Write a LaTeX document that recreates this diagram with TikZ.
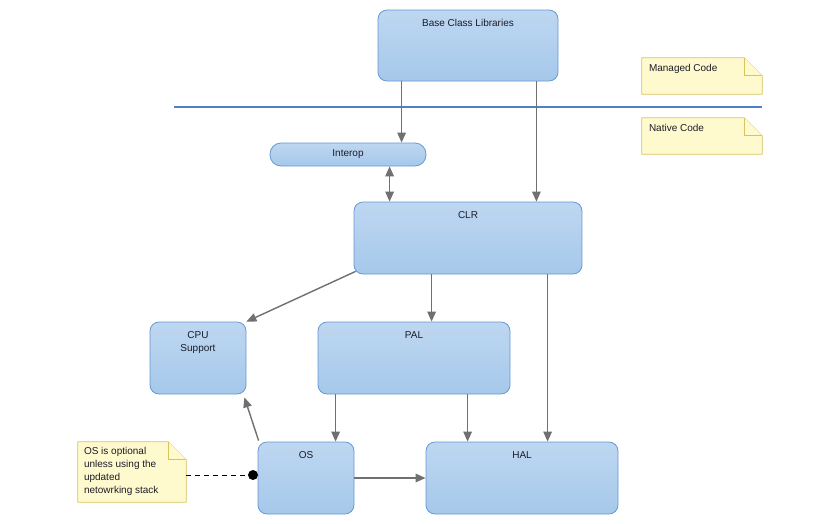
\documentclass[tikz,border=0pt]{standalone}
\usepackage{fontspec}
\setmainfont{Liberation Sans}
\usetikzlibrary{arrows.meta, calc}
\definecolor{blocktop}{RGB}{190,215,241}
\definecolor{blockbot}{RGB}{165,200,234}
\definecolor{blockedge}{RGB}{104,152,212}
\definecolor{notefill}{RGB}{255,250,205}
\definecolor{noteedge}{RGB}{214,196,96}
\definecolor{arrowgray}{RGB}{112,112,112}
\definecolor{layerline}{RGB}{78,128,196}
\definecolor{labeltext}{RGB}{28,28,40}

\tikzset{
  block/.style={draw=blockedge, line width=0.8pt, rounded corners=9pt,
    top color=blocktop, bottom color=blockbot, inner sep=0pt, text=labeltext},
  toplabel/.style={label={[anchor=north, yshift=-6pt, align=center, text=labeltext]north:#1}},
  flow/.style={draw=arrowgray, line width=1.4pt, -{Triangle[length=10pt,width=8.5pt]}},
  notebox/.style={inner sep=0pt},
  notetext/.style={anchor=north west, align=left, inner sep=0pt, text=labeltext},
  notepaper/.style={fill=notefill, draw=noteedge, line width=0.8pt}
}

% folded note outline
\newcommand{\drawnote}[1]{%
  \filldraw[notepaper] (#1.north west) -- ([xshift=-18pt]#1.north east)
    -- ([yshift=-18pt]#1.north east) -- (#1.south east) -- (#1.south west) -- cycle;
  \filldraw[notepaper] ([xshift=-18pt]#1.north east) -- ([shift={(-18pt,-18pt)}]#1.north east)
    -- ([yshift=-18pt]#1.north east);
}

\begin{document}
\begin{tikzpicture}[x=1pt, y=-1pt, font=\fontsize{10}{13}\selectfont]
    \useasboundingbox[fill=white] (0,0) rectangle (840,523);

    % Blocks
    \node[block, minimum width=180pt, minimum height=71pt, toplabel={Base Class Libraries}] (bcl) at (468,45.5) {};
    \node[block, minimum width=156pt, minimum height=23pt, rounded corners=11pt] (interop) at (348,154.5) {Interop};
    \node[block, minimum width=228pt, minimum height=72pt, toplabel={CLR}] (clr) at (468,238) {};
    \node[block, minimum width=96pt, minimum height=72pt, toplabel={CPU\\Support}] (cpu) at (198,358) {};
    \node[block, minimum width=192pt, minimum height=72pt, toplabel={PAL}] (pal) at (414,358) {};
    \node[block, minimum width=96pt, minimum height=72pt, toplabel={OS}] (os) at (306,478) {};
    \node[block, minimum width=192pt, minimum height=72pt, toplabel={HAL}] (hal) at (522,478) {};

    % Managed / native boundary
    \draw[layerline, line width=2.6pt] (174,107) -- (762,107);

    % Notes
    \node[notebox, minimum width=120pt, minimum height=36pt] (managed) at (702,76) {};
    \drawnote{managed}
    \node[notetext] at ([shift={(7pt,-6pt)}]managed.north west) {Managed Code};

    \node[notebox, minimum width=120pt, minimum height=36pt] (native) at (702,136) {};
    \drawnote{native}
    \node[notetext] at ([shift={(7pt,-6pt)}]native.north west) {Native Code};

    \node[notebox, minimum width=108pt, minimum height=60pt] (osnote) at (132,472) {};
    \drawnote{osnote}
    \node[notetext] at ([shift={(6pt,-5pt)}]osnote.north west) {OS is optional\\unless using the\\updated\\netowrking stack};

    % Connectors
    \draw[flow] ([xshift=24pt]bcl.south west) coordinate (b1) -- (b1 |- interop.north);
    \draw[flow] ([xshift=-22pt]bcl.south east) coordinate (b2) -- (b2 |- clr.north);
    \draw[flow, {Triangle[length=10pt,width=8.5pt]}-{Triangle[length=10pt,width=8.5pt]}]
        ([xshift=120pt]interop.south west) coordinate (i1) -- (i1 |- clr.north);
    \draw[flow] ([shift={(2pt,3pt)}]clr.south west) -- (cpu.north east);
    \draw[flow] ([xshift=78pt]clr.south west) coordinate (c1) -- (c1 |- pal.north);
    \draw[flow] ([xshift=194pt]clr.south west) coordinate (c2) -- (c2 |- hal.north);
    \draw[flow] ([xshift=18pt]pal.south west) coordinate (p1) -- (p1 |- os.north);
    \draw[flow] ([xshift=150pt]pal.south west) coordinate (p2) -- (p2 |- hal.north);
    \draw[flow] ([shift={(1pt,1pt)}]os.north west) -- ([shift={(-2pt,-3pt)}]cpu.south east);
    \draw[flow] (os.east) -- (hal.west);

    % OS note link
    \node[circle, fill=black, inner sep=0pt, minimum size=10pt] (osdot) at (253,475) {};
    \draw[line width=0.8pt, dash pattern=on 5pt off 4pt] (osnote.east |- osdot) -- (osdot);
\end{tikzpicture}
\end{document}
